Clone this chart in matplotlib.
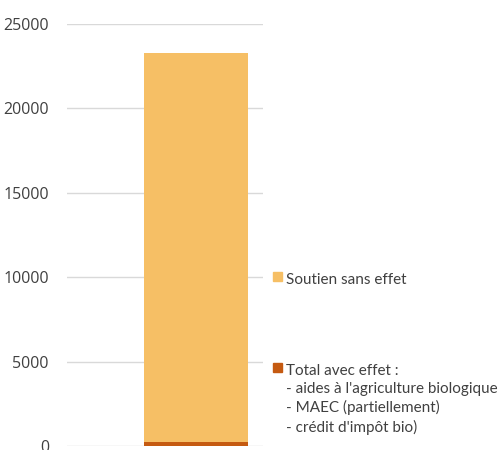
import matplotlib.pyplot as plt
from matplotlib.patches import Rectangle

plt.rcParams['font.family'] = ['Lato', 'DejaVu Sans']

categories = ['']
avec_effet = [250]
sans_effet = [23050]
labels = ["Total avec effet :\n- aides à l'agriculture biologique\n- MAEC (partiellement)\n- crédit d'impôt bio)",
          'Soutien sans effet']
colors = ['#c55a11', '#f6bf65']
yticks = [0, 5000, 10000, 15000, 20000, 25000]

fig = plt.figure(figsize=(5, 4.5), dpi=100)
ax = fig.add_axes([0.134, 0.009, 0.392, 0.938])

ax.bar([0], avec_effet, 0.53, color=colors[0], zorder=3)
ax.bar([0], sans_effet, 0.53, bottom=avec_effet, color=colors[1], zorder=3)

ax.set_xlim(-0.658, 0.342)
ax.set_ylim(0, 25000)
ax.set_yticks(yticks)
ax.set_xticks([])
ax.grid(axis='y', color='#d9d9d9', linewidth=1, zorder=0)
for s in ax.spines.values():
    s.set_visible(False)
ax.tick_params(axis='y', length=0, labelsize=11.5, labelcolor='#404040', pad=13)
for t in ax.get_yticklabels():
    t.set_fontfamily(['Open Sans', 'DejaVu Sans'])

# legend drawn by hand, like Excel places it
W, H = 500, 450
legend_items = [(labels[1], colors[1], 277), (labels[0], colors[0], 368)]
for text, col, ypix in legend_items:
    fig.add_artist(Rectangle((273 / W, 1 - (ypix + 4) / H), 9 / W, 9 / H,
                             transform=fig.transFigure, color=col))
    fig.text(286 / W, 1 - (ypix - 4) / H, text, ha='left', va='top',
             fontsize=11, color='#404040', linespacing=1.36)

fig.savefig('out.png')
